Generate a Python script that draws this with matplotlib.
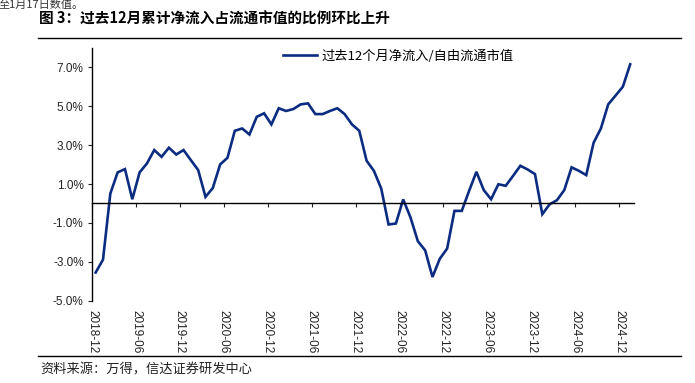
import numpy as np
import matplotlib
matplotlib.use("Agg")
from matplotlib import pyplot as plt
from matplotlib.lines import Line2D

plt.rcParams["font.family"] = ["Liberation Sans", "Noto Sans CJK SC", "DejaVu Sans"]

# 过去12个月净流入/自由流通市值 (%), monthly 2018-12 .. 2025-01
ratio = [
    -3.55, -2.89, 0.51, 1.60, 1.77, 0.22, 1.60, 2.06, 2.75, 2.40, 2.87, 2.52,
    2.75, 2.23, 1.72, 0.34, 0.80, 2.01, 2.35, 3.74, 3.86, 3.55, 4.46, 4.64,
    4.07, 4.90, 4.76, 4.86, 5.10, 5.15, 4.60, 4.60, 4.76, 4.90, 4.60, 4.07,
    3.74, 2.20, 1.68, 0.77, -1.08, -1.03, 0.21, -0.72, -1.94, -2.41, -3.78, -2.84,
    -2.32, -0.38, -0.38, 0.65, 1.63, 0.69, 0.22, 0.99, 0.91, 1.42, 1.94, 1.75,
    1.51, -0.55, -0.04, 0.17, 0.69, 1.86, 1.68, 1.46, 3.12, 3.86, 5.10, 5.55,
    6.01, 7.16,
]
tick_labels = ["2018-12", "2019-06", "2019-12", "2020-06", "2020-12", "2021-06",
               "2021-12", "2022-06", "2022-12", "2023-06", "2023-12", "2024-06",
               "2024-12"]
y_ticks = [-5, -3, -1, 1, 3, 5, 7]

navy = "#0B2C80"
cjk = ["Noto Sans CJK SC", "DejaVu Sans"]

fig = plt.figure(figsize=(6.95, 3.83), dpi=100)
ax = fig.add_axes([0.1324, 0.2149, 0.912 - 0.1324, 0.8747 - 0.2149])

x = np.arange(len(ratio)) + 0.5
ax.plot(x, ratio, color=navy, lw=1.9, solid_joinstyle="miter",
        label="过去12个月净流入/自由流通市值")

ax.set_xlim(0, len(ratio))
ax.set_ylim(-5, 8)

ax.set_yticks(y_ticks)
ax.set_yticklabels([f"{v:.1f}%" for v in y_ticks])
ax.set_xticks(np.arange(len(tick_labels)) * 6)
ax.set_xticklabels(tick_labels)

for s in ["top", "right"]:
    ax.spines[s].set_visible(False)
ax.spines["bottom"].set_position(("data", 0))
ax.spines["bottom"].set_linewidth(1.0)
ax.spines["left"].set_linewidth(1.0)
ax.tick_params(axis="y", direction="out", length=3, width=0.8, labelsize=8.5,
               pad=3, colors="#222222")
ax.tick_params(axis="x", direction="out", length=3, width=0.8, labelsize=8.5,
               pad=74, colors="#222222", labelrotation=-90)
for lab in ax.get_xticklabels():
    lab.set_va("top")
    lab.set_ha("center")

leg = ax.legend(loc="upper center", bbox_to_anchor=(0.565, 1.04), frameon=False,
                prop={"family": cjk, "size": 9.5}, handlelength=2.6,
                handletextpad=0.3)

# header / footer
fig.text(-0.002, 1.0, "至1月17日数值。", fontsize=8, family=cjk,
         style="italic", va="top", ha="left", color="#333333")
fig.text(0.056, 0.952, "图 3：过去12月累计净流入占流通市值的比例环比上升",
         fontsize=10.5, family=cjk, weight="bold", va="center", ha="left")
fig.add_artist(Line2D([0.054, 0.98], [0.902, 0.902], color="black", lw=1.0))
fig.add_artist(Line2D([0.054, 0.98], [0.070, 0.070], color="black", lw=1.0))
fig.text(0.058, 0.034, "资料来源：万得，信达证券研发中心", fontsize=9.5,
         family=cjk, style="italic", va="center", ha="left", color="#222222")

fig.savefig("out.png", dpi=100)
